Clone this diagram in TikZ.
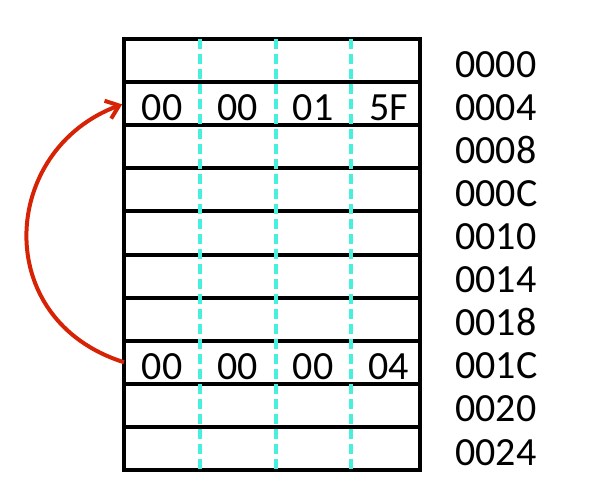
\documentclass[tikz,border=0pt]{standalone}
\usepackage{fontspec}
\setmainfont{Carlito}
\usetikzlibrary{arrows.meta,positioning,calc}
\definecolor{memred}{RGB}{214,35,5}
\definecolor{memcyan}{RGB}{70,240,220}
\tikzset{
  word/.style={draw, line width=4pt, minimum width=296pt, minimum height=43.1pt, inner sep=0pt, outer sep=0pt},
  byte/.style={anchor=base, inner sep=0pt, font=\fontsize{40}{40}\selectfont},
  addr/.style={anchor=base west, inner sep=0pt, font=\fontsize{40}{40}\selectfont},
  lane/.style={memcyan, line width=3.4pt, dash pattern=on 10pt off 5pt},
  ptr/.style={memred, line width=4pt, -{Straight Barb[length=12pt,width=19pt]}, shorten >=2pt}
}
\begin{document}
\begin{tikzpicture}[x=1pt,y=-1pt]
\useasboundingbox (0,0) rectangle (599,500);
% memory words and their addresses
\foreach \a [count=\i from 0] in {0000,0004,0008,000C,0010,0014,0018,001C,0020,0024} {
  \node[word] (r\i) at (272,{39+43.1*(\i+0.5)}) {};
  \node[addr] (a\i) at (455,{39+43.1*(\i+1)-5}) {\a};
}
% byte lanes
\foreach \x in {200,276,351}
  \draw[lane] ([xshift=\x pt-124pt]r0.north west) -- ([xshift=\x pt-124pt]r9.south west);
% bytes
\foreach \b [count=\j from 0] in {00,00,01,5F} {
  \node[byte] (p\j) at ([xshift={38pt+75.5pt*\j},yshift=4.5pt]r1.south west) {\b};
}
\foreach \b [count=\j from 0] in {00,00,00,04} {
  \node[byte] (q\j) at ([xshift={38pt+75.5pt*\j},yshift=4.5pt]r7.south west) {\b};
}
% pointer
\draw[ptr] (r7.west) .. controls (-10,320) and (0,150) .. (r1.west);
\end{tikzpicture}
\end{document}
